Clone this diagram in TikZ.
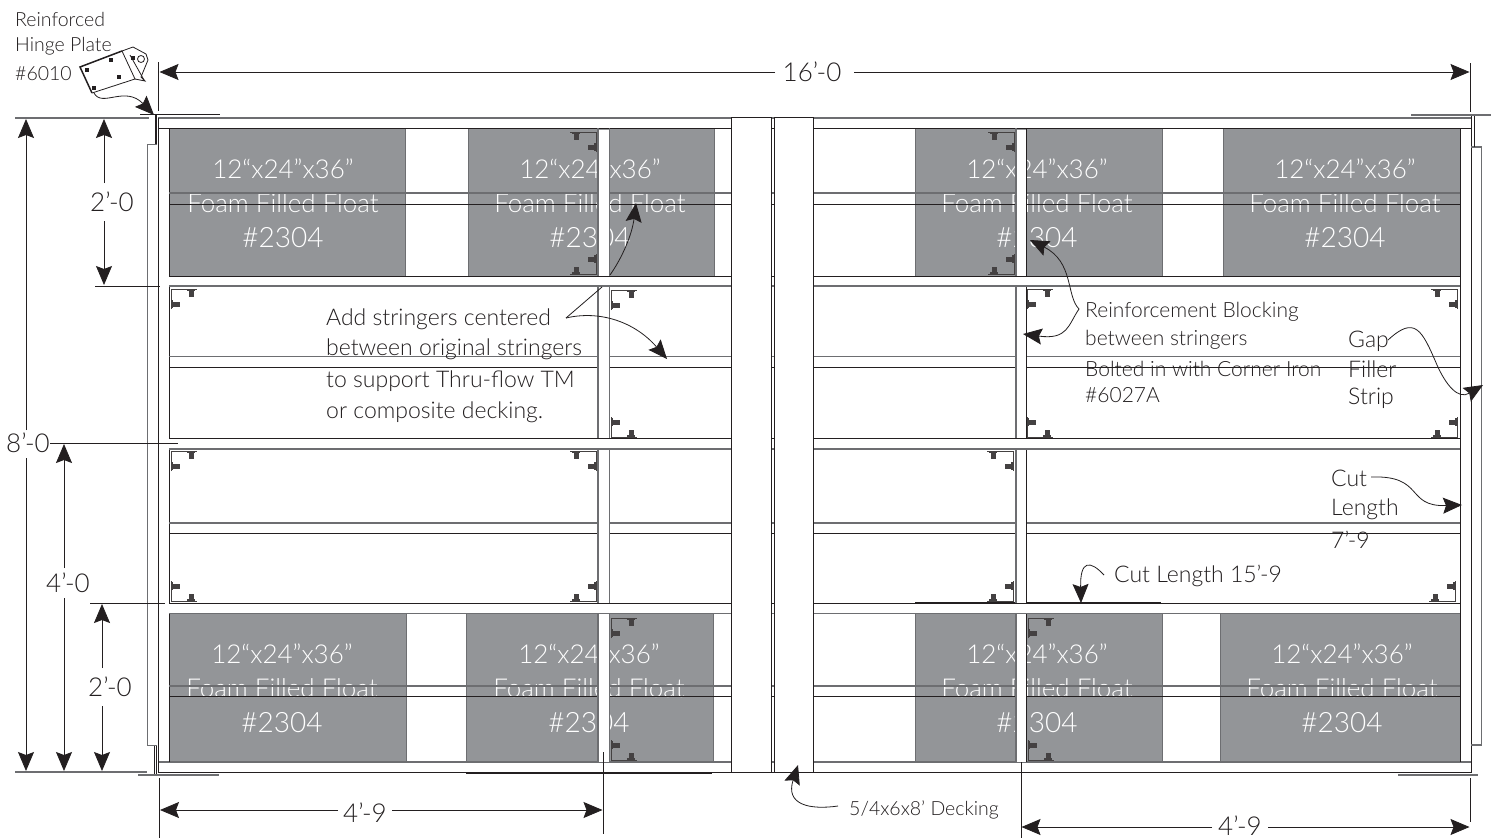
\documentclass[tikz,border=0pt]{standalone}
\usepackage{fontspec}
\setmainfont{Lato Light}
\usetikzlibrary{arrows.meta}
\definecolor{ink}{HTML}{231F20}
\definecolor{lng}{HTML}{6D6E71}
\definecolor{flt}{HTML}{939598}
\tikzset{
  ln/.style={draw=ink,line width=1pt},
  gl/.style={draw=lng,line width=1.3pt},
  thk/.style={draw=lng,line width=2pt},
  ext/.style={draw=ink,line width=.8pt},
  dimln/.style={draw=ink,line width=.8pt,-{Stealth[length=19pt,width=16pt,inset=3pt]}},
  lead/.style={draw=ink,line width=.8pt,-{Stealth[length=19pt,width=16pt,inset=3pt]}},
  leadp/.style={draw=ink,line width=.8pt},
  txt/.style={anchor=west,inner sep=0pt,yshift=-1.5pt,text=ink,font=\fontsize{23}{27}\selectfont},
  smalltxt/.style={anchor=west,inner sep=0pt,yshift=-1.5pt,text=ink,font=\fontsize{19.5}{23}\selectfont},
  reinf/.style={txt,font=\fontsize{21}{25}\selectfont},
  dimt/.style={inner sep=0pt,text=ink,font=\fontsize{26}{30}\selectfont},
  fa/.style={inner sep=0pt,yshift=-1pt,text=white,font=\fontsize{26}{30}\selectfont},
  fb/.style={inner sep=0pt,text=white,font=\fontsize{26}{30}\selectfont},
  fc/.style={inner sep=0pt,yshift=-1pt,text=white,font=\fontsize{28}{32}\selectfont},
}
\newcommand\cornerIron[4]{%
  \begin{scope}[shift={(#1,#2)},xscale=#3,yscale=#4]
    \draw[draw=ink!85,line width=.8pt] (0,20)--(0,0)--(26,0);
    \fill[ink!85] (17.5,2) rectangle (22.5,7.5);
    \fill[ink!85] (16,.5) rectangle (24,2);
    \fill[ink!85] (2,12.5) rectangle (8.5,17.5);
    \fill[ink!85] (.5,11) rectangle (2,19);
  \end{scope}}
\newcommand\floatBlock[6]{%
  \fill[flt] (#2,#4) rectangle (#3,#5);
  \draw[ln,draw=lng] (#2,#4) rectangle (#3,#5);
  \node[fa] (#1a) at (#6,\numexpr#4+40\relax) {12“x24”x36”};
  \node[fb] (#1b) at (#6,\numexpr#4+75\relax) {Foam Filled Float};
  \node[fc] (#1c) at (#6,\numexpr#4+109\relax) {\#2304};}
\begin{document}
\begin{tikzpicture}[x=1pt,y=-1pt]
\useasboundingbox (0,0) rectangle (1496,838);
\fill[white] (0,0) rectangle (1496,838);
% floats
\floatBlock{tla}{169}{405}{128}{276}{283}
\floatBlock{tlb}{468}{714}{128}{276}{590}
\floatBlock{tra}{915}{1162}{128}{276}{1037}
\floatBlock{trb}{1223}{1460}{128}{276}{1345}
\floatBlock{bla}{169}{406}{613}{762}{282}
\floatBlock{blb}{466}{713}{613}{762}{589}
\floatBlock{bra}{915}{1162}{613}{762}{1037}
\floatBlock{brb}{1220}{1460}{613}{762}{1342}
% frame
\draw[gl] (158,118)--(1472,118);
\draw[ln] (158,128.5)--(1472,128.5);
\draw[gl] (158,762)--(1472,762);
\draw[ln] (158,772.5)--(1472,772.5);
\draw[ln] (158.5,118)--(158.5,773);
\draw[ln] (1471,116)--(1471,773);
\draw[ln] (169,128)--(169,762);
\draw[ln] (1460.5,128)--(1460.5,762);
% filler strips
\draw[ln,draw=lng] (157,144)--(147.5,144)--(147.5,745.5)--(157,745.5);
\draw[ln] (154,745.5)--(154,775) (156.5,745.5)--(156.5,775);
\draw[ink,line width=1.8pt] (156,115)--(156,144);
\draw[gl] (1471,147)--(1481.5,147)--(1481.5,745)--(1471,745);
\draw[ln] (1474,116)--(1474,147);
% heavy tick lines
\draw[draw=ink,line width=1pt] (140,114.5)--(220,114.5);
\draw[thk] (1411,115)--(1491,115);
\draw[thk] (138,775)--(219,775);
\draw[thk] (1398,775)--(1478,775);
\draw[draw=ink,line width=1.6pt] (466,773)--(712,773);
\draw[draw=ink,line width=1.6pt] (915,602.5)--(1161,602.5);
% cross stringers
\foreach \a/\b in {193/204,356.5/367,523/533,686/696}{
  \draw[gl] (169,\a)--(1460,\a);
  \draw[ln] (169,\b)--(1460,\b);
}
% long stringers
\fill[white] (598,130) rectangle (609,762);
\fill[white] (1016,130) rectangle (1026,762);
\draw[gl] (598,128)--(598,276) (598,286)--(598,762);
\draw[ln,draw=lng] (609,128)--(609,762);
\draw[gl] (1016,128)--(1016,276) (1016,286)--(1016,762);
\draw[ln] (1026,128)--(1026,762);
% rails
\foreach \a/\b in {276/286,438.5/449,603/613.5}{
  \fill[white] (169,\a) rectangle (1460,\b);
  \draw[ln] (169,\a)--(1460,\a);
  \draw[gl] (169,\b)--(1460,\b);
}
% centre decking
\draw[ln,fill=white] (731,117.5) rectangle (771,772.5);
\draw[ln,fill=white] (774,117.5) rectangle (813.5,772.5);
% corner irons
\cornerIron{596}{132}{-1}{1}
\cornerIron{596}{274}{-1}{-1}
\cornerIron{611}{290}{1}{1}
\cornerIron{611}{437}{1}{-1}
\cornerIron{171}{289}{1}{1}
\cornerIron{171}{451}{1}{1}
\cornerIron{171}{601}{1}{-1}
\cornerIron{596}{451}{-1}{1}
\cornerIron{596}{601}{-1}{-1}
\cornerIron{611}{618}{1}{1}
\cornerIron{611}{760}{1}{-1}
\cornerIron{1014}{132}{-1}{1}
\cornerIron{1014}{274}{-1}{-1}
\cornerIron{1027}{289}{1}{1}
\cornerIron{1027}{437}{1}{-1}
\cornerIron{1457}{289}{-1}{1}
\cornerIron{1457}{437}{-1}{-1}
\cornerIron{1013}{451}{-1}{1}
\cornerIron{1013}{601}{-1}{-1}
\cornerIron{1455}{601}{-1}{-1}
\cornerIron{1028}{618}{1}{1}
\cornerIron{1028}{760}{1}{-1}
% dimension texts
\node[dimt] (d16) at (812,72) {16'-0};
\node[dimt] (d8) at (28,443) {8'-0};
\node[dimt] (d2a) at (112,202) {2'-0};
\node[dimt] (d4) at (68,583) {4'-0};
\node[dimt] (d2b) at (110,687) {2'-0};
\node[dimt] (d49a) at (365,813) {4'-9};
\node[dimt] (d49b) at (1240,826) {4'-9};
% extension lines
\coordinate (eTL) at (158.5,62); \coordinate (eTLb) at (158.5,111);
\coordinate (eTR) at (1470,63); \coordinate (eTRb) at (1470,112);
\draw[ext] (eTL)--(eTLb) (eTR)--(eTRb);
\draw[gl] (15,118)--(149,118);
\draw[gl] (15,772)--(147,772);
\draw[ext] (50,443)--(178,443);
\draw[ext] (95,286)--(160,286);
\draw[ext] (90,603)--(165,603);
\draw[ext] (159,778)--(159,838);
\draw[ext] (603,752)--(603,834);
\draw[ext] (1021,762)--(1021,838);
\draw[ext] (1470,778)--(1470,822);
% dimension lines
\coordinate (a1) at (159.5,72); \coordinate (a2) at (775,72); \coordinate (a3) at (854,72); \coordinate (a4) at (1469.5,72);
\draw[dimln] (a2)--(a1);
\draw[dimln] (a3)--(a4);
\coordinate (b1) at (26,430); \coordinate (b2) at (26,119); \coordinate (b3) at (26,458); \coordinate (b4) at (26,771);
\draw[dimln] (b1)--(b2);
\draw[dimln] (b3)--(b4);
\coordinate (c1) at (104,183); \coordinate (c2) at (104,119); \coordinate (c3) at (104,221); \coordinate (c4) at (104,285);
\draw[dimln] (c1)--(c2);
\draw[dimln] (c3)--(c4);
\coordinate (f1) at (64,568); \coordinate (f2) at (64,444); \coordinate (f3) at (64,598); \coordinate (f4) at (64,771);
\draw[dimln] (f1)--(f2);
\draw[dimln] (f3)--(f4);
\coordinate (g1) at (102,668); \coordinate (g2) at (102,604); \coordinate (g3) at (102,706); \coordinate (g4) at (102,771);
\draw[dimln] (g1)--(g2);
\draw[dimln] (g3)--(g4);
\coordinate (h1) at (338,810); \coordinate (h2) at (160,810); \coordinate (h3) at (392,810); \coordinate (h4) at (602.5,810);
\draw[dimln] (h1)--(h2);
\draw[dimln] (h3)--(h4);
\coordinate (k1) at (1212,827); \coordinate (k2) at (1021.5,827); \coordinate (k3) at (1268,827); \coordinate (k4) at (1469.5,827);
\draw[dimln] (k1)--(k2);
\draw[dimln] (k3)--(k4);
% annotations
\node[smalltxt] (t1) at (15,18) {Reinforced};
\node[smalltxt] (t2) at (15,45) {Hinge Plate};
\node[smalltxt] (t3) at (15,72) {\#6010};
\node[txt] (n1) at (326,318) {Add stringers centered};
\node[txt] (n2) at (326,348) {between original stringers};
\node[txt] (n3) at (326,380) {to support Thru-flow TM};
\node[txt] (n4) at (326,411) {or composite decking.};
\node[reinf] (r1) at (1085,310) {Reinforcement Blocking};
\node[reinf] (r2) at (1085,338) {between stringers};
\node[reinf] (r3) at (1085,367) {Bolted in with Corner Iron};
\node[reinf] (r4) at (1085,394) {\#6027A};
\node[txt] (g5) at (1348,340) {Gap};
\node[txt] (g6) at (1348,368) {Filler};
\node[txt] (g7) at (1348,397) {Strip};
\node[txt] (c5) at (1331,477) {Cut};
\node[txt] (c6) at (1331,508) {Length};
\node[txt] (c7) at (1331,538) {7'-9};
\node[txt] (cl) at (1114,574) {Cut Length 15'-9};
\node[smalltxt] (dk) at (849,808) {5/4x6x8' Decking};
% leaders
\coordinate (la) at (566,318); \coordinate (lb) at (602,287);
\coordinate (lc) at (610,275); \coordinate (ld) at (636,203); \coordinate (le) at (667,359);
\draw[leadp] (la)--(lb);
\draw[lead] (lc) .. controls (622,258) and (632,235) .. (ld);
\draw[lead] (la) .. controls (600,310) and (635,322) .. (le);
\coordinate (ra) at (1079,309); \coordinate (rb) at (1030,240); \coordinate (rc) at (1023,334);
\draw[lead] (ra) .. controls (1066,296) and (1074,262) .. (rb);
\draw[lead] (ra) .. controls (1068,325) and (1068,340) .. (rc);
\coordinate (ga) at (1388,340); \coordinate (gb) at (1483,385);
\draw[lead] (ga) .. controls (1415,315) and (1422,330) .. (1437,365) .. controls (1446,385) and (1458,400) .. (gb);
\coordinate (ca) at (1371,477); \coordinate (cb) at (1462,505);
\draw[lead] (ca) .. controls (1425,475) and (1405,507) .. (cb);
\coordinate (cc) at (1104,575); \coordinate (cd) at (1081,603);
\draw[lead] (cc) .. controls (1090,560) and (1080,560) .. (cd);
\coordinate (de) at (838,806); \coordinate (df) at (798,765);
\draw[lead] (de) .. controls (810,810) and (785,805) .. (df);
% hinge plate
\draw[draw=ink,line width=1.5pt] (92,93)--(80,67)--(122,51);
\draw[draw=ink,line width=.8pt] (92,93)--(135,79)--(122,51);
\draw[draw=ink,line width=.8pt] (122,51)--(133,47)--(146,54)--(148,60)--(141,77)--(145,81)--(135,79);
\draw[draw=ink,line width=.8pt] (130,55)--(144,80);
\draw[draw=ink,line width=.8pt] (141,59) circle (3.5);
\foreach \p in {(87,70),(111,60),(94,88),(119,77),(133,58)}
  \fill[ink] \p ++(-2,-2) rectangle ++(4,4);
\coordinate (ha) at (94,93); \coordinate (hb) at (154,115);
\draw[lead] (ha) .. controls (102,108) and (125,85) .. (hb);
\end{tikzpicture}
\end{document}
